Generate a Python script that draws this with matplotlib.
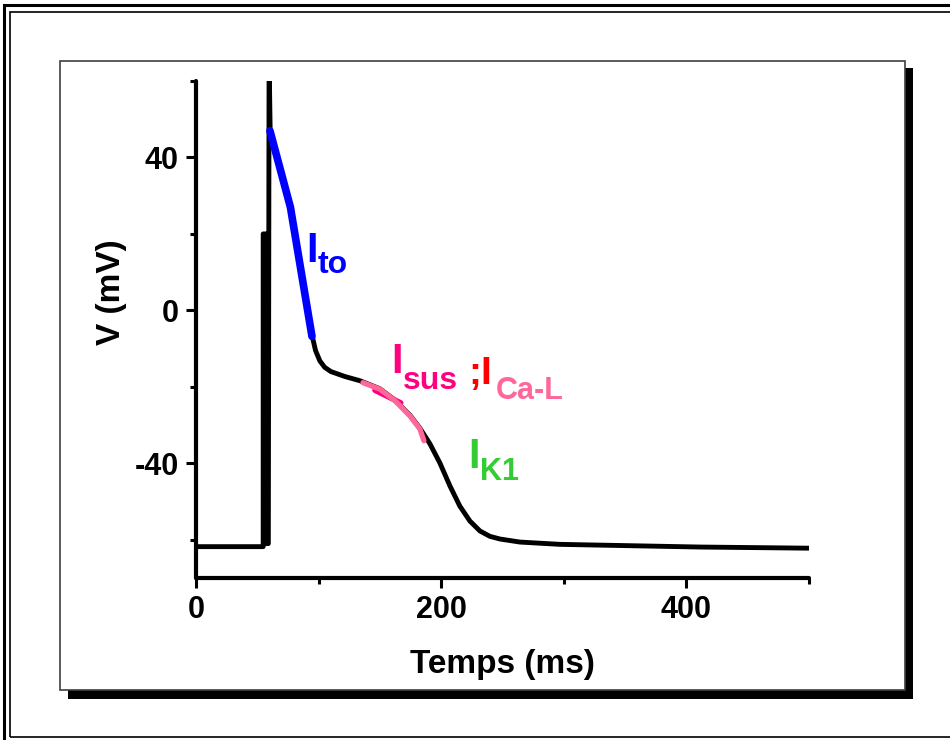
import matplotlib
matplotlib.use("Agg")
import matplotlib.pyplot as plt
from matplotlib.patches import Rectangle
from matplotlib.ticker import MultipleLocator

plt.rcParams['font.family'] = ['Liberation Sans', 'DejaVu Sans']
plt.rcParams['font.weight'] = 'bold'
plt.rcParams['axes.unicode_minus'] = False

# action potential trace (ms, mV)
time_ms = [0, 54.8, 54.8, 57.5, 57.5, 59.0, 59.6, 60.5, 77, 95, 97.5, 101, 105, 110, 121.5,
           133.7, 150, 162, 174.5, 182.6, 190.8, 198.9, 207.1, 215.2, 223.4, 231.6,
           239.7, 247.9, 264.2, 296.8, 329.4, 410.9, 500]
volt_mv = [-61.8, -61.8, 20, 20, -61, -61, 66, 47, 27, -7, -10.5, -13.2, -14.9, -16.0, -17.3,
           -18.4, -20.5, -23.4, -27.4, -30.8, -34.9, -39.9, -45.9, -51.2, -55.1, -57.7,
           -59.1, -59.8, -60.6, -61.2, -61.4, -61.9, -62.2]

# highlighted phases
ito_t = [60.3, 77, 94.6]
ito_v = [47, 27, -6.8]
isus_t = [146, 167]
isus_v = [-20.9, -24.2]
ical_t = [136.2, 150, 162.3, 174.5, 182.6, 185.9]
ical_v = [-18.9, -20.6, -23.6, -27.6, -31.0, -34.1]

x_major = [0, 200, 400]
y_major = [-40, 0, 40]

W, H = 950, 740
fig = plt.figure(figsize=(W / 100, H / 100), dpi=100)


def fx(x):
    return x / W


def fy(y):
    return 1 - y / H


def frame(x0, y0, x1, y1, **kw):
    fig.add_artist(Rectangle((fx(x0), fy(y1)), fx(x1) - fx(x0), fy(y0) - fy(y1),
                             transform=fig.transFigure, zorder=-5, **kw))


# page borders
frame(4, 5, 980, 760, fill=False, lw=2.2, ec='black')
frame(10, 12, 980, 737, fill=False, lw=1.2, ec='black')
# shadowed box
frame(68, 68, 913, 699, fc='black', ec='none')
frame(60, 61, 905, 690, fc='white', ec='#404040', lw=1.2)

ax = fig.add_axes([fx(196), fy(578), fx(809) - fx(196), fy(81) - fy(578)])
ax.patch.set_alpha(0)
ax.set_zorder(2)

ax.plot(time_ms, volt_mv, color='black', lw=3.5, solid_capstyle='butt')
ax.plot(ito_t, ito_v, color='#0000FF', lw=5.5, solid_capstyle='round')
ax.plot(isus_t, isus_v, color='#FF0080', lw=4, solid_capstyle='round')
ax.plot(ical_t, ical_v, color='#FF6699', lw=3.8, solid_capstyle='round')

ax.set_xlim(0, 500)
ax.set_ylim(-70, 60)
ax.xaxis.set_major_locator(MultipleLocator(200))
ax.xaxis.set_minor_locator(MultipleLocator(100))
ax.yaxis.set_major_locator(MultipleLocator(40))
ax.yaxis.set_minor_locator(MultipleLocator(20))
ax.set_xticks(x_major)
ax.set_yticks(y_major)

for s in ['top', 'right']:
    ax.spines[s].set_visible(False)
for s in ['left', 'bottom']:
    ax.spines[s].set_linewidth(3)
    ax.spines[s].set_capstyle('round')

ax.tick_params(which='major', length=7.5, width=2.2, pad=5, labelsize=22)
ax.tick_params(which='minor', length=4.5, width=2.2)

ax.set_xlabel('Temps (ms)', fontsize=24, fontweight='bold')
ax.set_ylabel('V (mV)', fontsize=24, fontweight='bold')
ax.xaxis.set_label_coords(0.5, -0.143)
ax.yaxis.set_label_coords(-0.112, 0.575)

# current labels
big = 30
sub = 23
ax.text(90.0, 12.6, 'I', color='#0000FF', fontsize=big, fontweight='bold')
ax.text(99.5, 9.7, 'to', color='#0000FF', fontsize=sub, fontweight='bold')
ax.text(159.0, -16.3, 'I', color='#FF0080', fontsize=big, fontweight='bold')
ax.text(168.5, -20.5, 'sus', color='#FF0080', fontsize=sub, fontweight='bold')
ax.text(222.0, -19.2, ';I', color='#FF0000', fontsize=28, fontweight='bold')
ax.text(244.5, -23.1, 'Ca-L', color='#FF6699', fontsize=22, fontweight='bold')
ax.text(222.0, -41.2, 'I', color='#33CC33', fontsize=big, fontweight='bold')
ax.text(231.5, -44.4, 'K1', color='#33CC33', fontsize=22, fontweight='bold')

fig.savefig('out.png', dpi=100)
